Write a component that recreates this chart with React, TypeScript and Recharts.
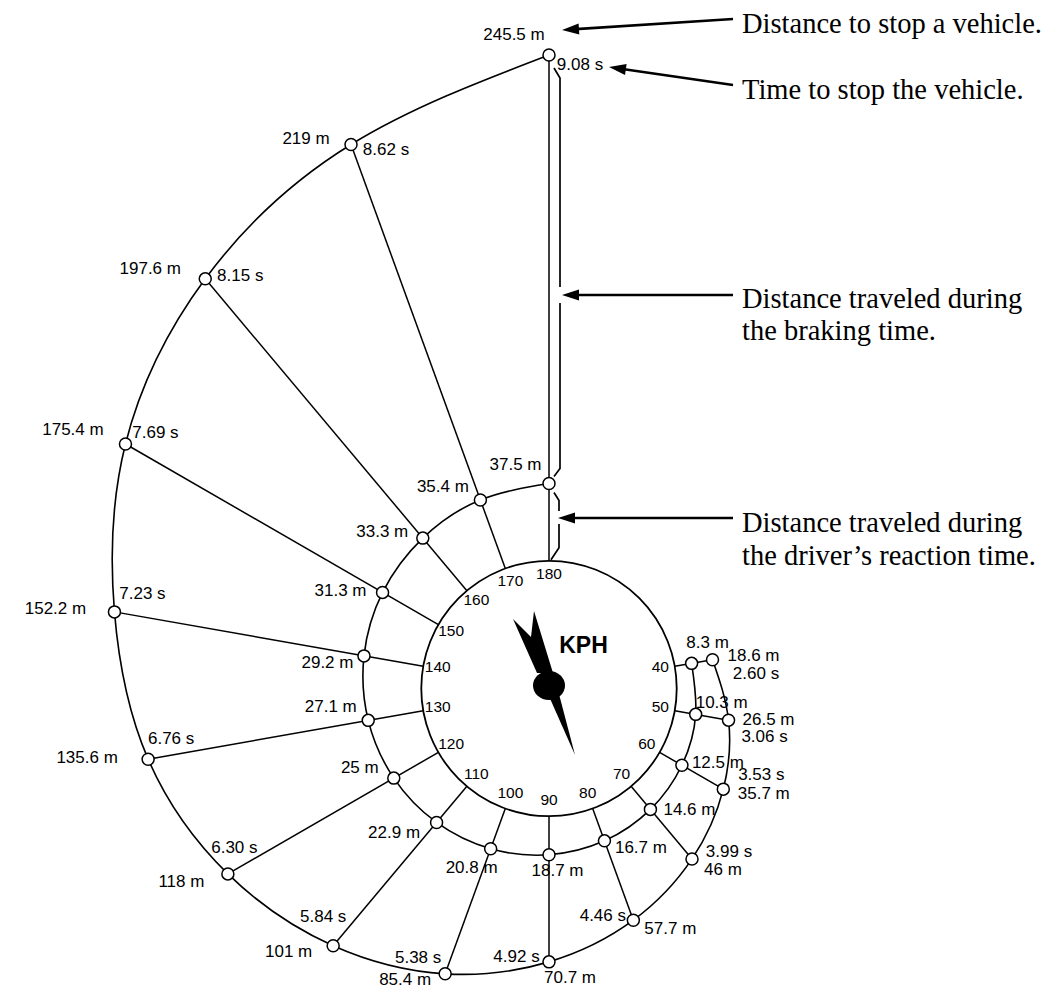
import { ComposedChart, Line, Scatter, XAxis, YAxis, ReferenceDot } from 'recharts';

// speeds on the dial, km/h
const SPEEDS = [40, 50, 60, 70, 80, 90, 100, 110, 120, 130, 140, 150, 160, 170, 180];
// distance travelled during the reaction time, m
const REACTION_M = [8.3, 10.3, 12.5, 14.6, 16.7, 18.7, 20.8, 22.9, 25, 27.1, 29.2, 31.3, 33.3, 35.4, 37.5];
// total distance to stop, m
const STOP_M = [18.6, 26.5, 35.7, 46, 57.7, 70.7, 85.4, 101, 118, 135.6, 152.2, 175.4, 197.6, 219, 245.5];
// time to stop, s
const STOP_S = [2.6, 3.06, 3.53, 3.99, 4.46, 4.92, 5.38, 5.84, 6.3, 6.76, 7.23, 7.69, 8.15, 8.62, 9.08];

const W = 1050;
const H = 991;
const CX = 549; // dial centre on the page
const CY = 688.5;
const PX = 2.06; // pixels per metre
const DIAL = 62; // dial radius, in metres of the same scale

const X_DOMAIN = [-CX / PX, (W - CX) / PX];
const Y_DOMAIN = [-(H - CY) / PX, CY / PX];

function polar(speed: number, dist: number) {
  const a = ((90 - 2 * speed) * Math.PI) / 180;
  const r = DIAL + dist;
  return { x: r * Math.cos(a), y: r * Math.sin(a) };
}

const innerPts = SPEEDS.map((s, i) => ({ ...polar(s, REACTION_M[i]), i }));
const outerPts = SPEEDS.map((s, i) => ({ ...polar(s, STOP_M[i]), i }));
const spokes = SPEEDS.map((s, i) => [polar(s, 0), polar(s, STOP_M[i])]);
const tickPts = SPEEDS.map((s) => ({ ...polar(s, 113 / PX - DIAL), speed: s }));

// label offsets from their point, px
const INNER_OFF = [[16, -21], [26, -12], [36, -3], [39, 0], [36.5, 7], [8.5, 16], [-19, 19], [-42.5, 10], [-34, -11], [-37.5, -14], [-36.5, 7], [-42, -2], [-40.5, -7], [-37.5, -13], [-33.5, -19]];
const STOP_M_OFF = [[41, -4], [40, -1], [40.5, 4], [31, 11], [37, 8], [21, 16], [-40, 6], [-44.5, 6], [-46.5, 8], [-61, -2], [-59, -3], [-52.5, -14], [-55, -10], [-45, -6], [-35, -21]];
const STOP_S_OFF = [[43.5, 14], [36, 16], [38, -15], [37, -7], [-30.5, -5], [-32.5, -5], [-27, -16], [-10, -29], [6.5, -26], [23, -21], [28, -18], [30, -11], [35, -3], [35, 5], [31, 9]];

const SANS = "'Liberation Sans', Arial, Helvetica, sans-serif";
const SERIF = "'Liberation Serif', 'DejaVu Serif', serif";

const numText = { fontFamily: SANS, fontSize: 17, fill: '#000', textAnchor: 'middle' as const, dominantBaseline: 'central' as const };

function innerDot(p: any) {
  const i = p.index;
  const [dx, dy] = INNER_OFF[i];
  return (
    <g key={`in-${i}`}>
      <circle cx={p.cx} cy={p.cy} r={6} fill="#fff" stroke="#000" strokeWidth={1.5} />
      <text x={p.cx + dx} y={p.cy + dy} {...numText}>{`${REACTION_M[i]} m`}</text>
    </g>
  );
}

function outerDot(p: any) {
  const i = p.index;
  const [mx, my] = STOP_M_OFF[i];
  const [sx, sy] = STOP_S_OFF[i];
  return (
    <g key={`out-${i}`}>
      <circle cx={p.cx} cy={p.cy} r={6} fill="#fff" stroke="#000" strokeWidth={1.5} />
      <text x={p.cx + mx} y={p.cy + my} {...numText}>{`${STOP_M[i]} m`}</text>
      <text x={p.cx + sx} y={p.cy + sy} {...numText}>{`${STOP_S[i].toFixed(2)} s`}</text>
    </g>
  );
}

function TickText(p: any) {
  const speed = p.payload?.speed ?? p.speed;
  return (
    <text x={p.cx} y={p.cy - 2} fontFamily={SANS} fontSize={15.5} textAnchor="middle" dominantBaseline="central" fill="#000">
      {speed}
    </text>
  );
}

function arrowHead(tx: number, ty: number, sx: number, sy: number) {
  const len = Math.hypot(sx - tx, sy - ty);
  const ux = (sx - tx) / len;
  const uy = (sy - ty) / len;
  const L = 17;
  const hw = 5.5;
  const bx = tx + ux * L;
  const by = ty + uy * L;
  return `${tx},${ty} ${bx - uy * hw},${by + ux * hw} ${bx + uy * hw},${by - ux * hw}`;
}

const ARROWS = [
  { tip: [562, 30], tail: [733, 19] },
  { tip: [609, 67], tail: [733, 85] },
  { tip: [562, 295], tail: [733, 295] },
  { tip: [558, 518], tail: [733, 518] },
];

const NOTES = [
  { y: 33, text: 'Distance to stop a vehicle.' },
  { y: 99, text: 'Time to stop the vehicle.' },
  { y: 308, text: 'Distance traveled during' },
  { y: 340, text: 'the braking time.' },
  { y: 532, text: 'Distance traveled during' },
  { y: 565, text: 'the driver\u2019s reaction time.' },
];

function Overlay(p: any) {
  const cx = p.cx;
  const cy = p.cy;
  const yTop = cy - (DIAL + STOP_M[14]) * PX;
  const yInner = cy - (DIAL + REACTION_M[14]) * PX;
  const yDial = cy - DIAL * PX;
  const a3 = ARROWS[2].tip[1];
  const a4 = ARROWS[3].tip[1];
  const braking = `M${cx + 5},${yTop + 13} L${cx + 11},${yTop + 23} L${cx + 11},${a3 - 8} M${cx + 11},${a3 + 8} L${cx + 11},${yInner - 15} L${cx + 5},${yInner - 7}`;
  const reaction = `M${cx + 5},${yInner + 9} L${cx + 10},${yInner + 17} L${cx + 10},${a4 - 7} M${cx + 10},${a4 + 6} L${cx + 10},${yDial - 13} L${cx + 2},${yDial - 1}`;
  return (
    <g>
      {/* needle */}
      <polygon
        points={`${cx - 36},${cy - 69.5} ${cx - 18},${cy - 51.5} ${cx - 15},${cy - 77.5} ${cx + 4},${cy - 15.5} ${cx - 12},${cy - 15.5}`}
        fill="#000"
      />
      <polygon points={`${cx - 3},${cy + 1} ${cx + 8},${cy - 2} ${cx + 26},${cy + 66.5}`} fill="#000" />
      <ellipse cx={cx} cy={cy - 3} rx={16} ry={14.5} fill="#000" />
      <text x={cx + 34.5} y={cy - 43.5} fontFamily={SANS} fontSize={23} fontWeight="bold" textAnchor="middle" dominantBaseline="central" fill="#000">
        KPH
      </text>
      {/* brackets at 180 km/h */}
      <path d={braking} fill="none" stroke="#000" strokeWidth={1.7} />
      <path d={reaction} fill="none" stroke="#000" strokeWidth={1.7} />
      {ARROWS.map((a, i) => (
        <g key={`ar-${i}`}>
          <line x1={a.tail[0]} y1={a.tail[1]} x2={a.tip[0] + 10} y2={a.tip[1] + ((a.tail[1] - a.tip[1]) * 10) / (a.tail[0] - a.tip[0])} stroke="#000" strokeWidth={2.6} />
          <polygon points={arrowHead(a.tip[0], a.tip[1], a.tail[0], a.tail[1])} fill="#000" />
        </g>
      ))}
      {NOTES.map((n, i) => (
        <text key={`n-${i}`} x={742} y={n.y} fontFamily={SERIF} fontSize={28.5} fill="#000">
          {n.text}
        </text>
      ))}
    </g>
  );
}

export default function App() {
  return (
    <div style={{ position: 'absolute', left: 0, top: 0, width: W, height: H, background: '#fff' }}>
      <ComposedChart width={W} height={H} margin={{ top: 0, right: 0, bottom: 0, left: 0 }}>
        <XAxis type="number" dataKey="x" domain={X_DOMAIN} hide allowDataOverflow />
        <YAxis type="number" dataKey="y" domain={Y_DOMAIN} hide allowDataOverflow />
        <ReferenceDot x={0} y={0} r={DIAL * PX} fill="none" stroke="#000" strokeWidth={1.8} ifOverflow="visible" />
        {spokes.map((seg, i) => (
          <Line
            key={`spoke-${i}`}
            data={seg}
            dataKey="y"
            type="linear"
            stroke="#000"
            strokeWidth={1.5}
            dot={false}
            activeDot={false}
            isAnimationActive={false}
          />
        ))}
        <Line data={innerPts} dataKey="y" type="natural" stroke="#000" strokeWidth={1.6} dot={innerDot} activeDot={false} isAnimationActive={false} />
        <Line data={outerPts} dataKey="y" type="natural" stroke="#000" strokeWidth={1.6} dot={outerDot} activeDot={false} isAnimationActive={false} />
        <Scatter data={tickPts} shape={TickText} isAnimationActive={false} />
        <Scatter data={[{ x: 0, y: 0 }]} shape={Overlay} isAnimationActive={false} />
      </ComposedChart>
    </div>
  );
}
